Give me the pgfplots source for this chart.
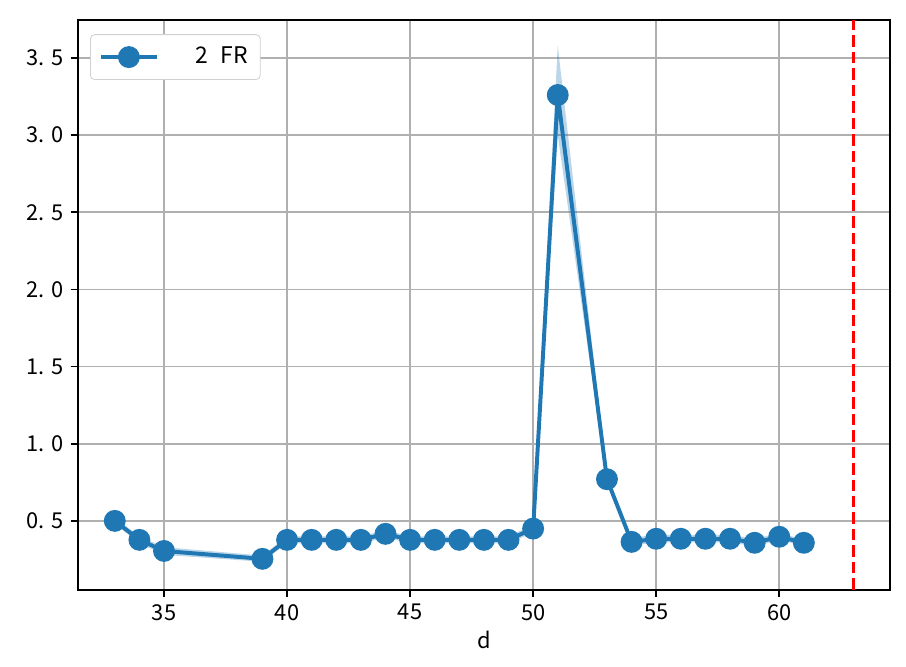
\documentclass[border=0pt]{standalone}
\usepackage{fontspec}
\setmainfont{Noto Sans CJK SC}
\usepackage{pgfplots}
\pgfplotsset{compat=1.18}
\usepgfplotslibrary{fillbetween}
\definecolor{c0}{HTML}{1F77B4}
\definecolor{gridc}{HTML}{B0B0B0}
\begin{document}
\begin{tikzpicture}
\begin{axis}[
scale only axis,
width=390pt, height=273.6pt,
xmin=31.5, xmax=64.5,
ymin=0.054, ymax=3.746,
xtick={35,40,45,50,55,60},
ytick={0.5,1.0,1.5,2.0,2.5,3.0,3.5},
yticklabels={0.\hspace{0.3em}5,1.\hspace{0.3em}0,1.\hspace{0.3em}5,2.\hspace{0.3em}0,2.\hspace{0.3em}5,3.\hspace{0.3em}0,3.\hspace{0.3em}5},
/pgf/number format/assume math mode=true,
tick align=outside,
major tick length=3.5pt,
tick style={black, line width=0.8pt},
xtick pos=bottom, ytick pos=left,
axis line style={line width=0.8pt},
grid=major,
grid style={gridc, line width=0.8pt},
xlabel={d},
xlabel style={yshift=2pt},
ticklabel style={font=\fontsize{10.5}{12}\selectfont},
label style={font=\fontsize{10.5}{12}\selectfont},
legend style={at={(0.015,0.975)}, anchor=north west, draw=gridc!60, rounded corners=2pt,
  font=\fontsize{11}{12}\selectfont, inner sep=4pt},
legend cell align=left,
legend image code/.code={\draw[c0, line width=1.9pt] (0pt,0pt) -- (27pt,0pt); \fill[c0] (13.5pt,0pt) circle (4.3pt);},
]
\addplot[name path=up, draw=none, forget plot] coordinates {
(33,0.52) (34,0.40) (35,0.33) (39,0.275) (40,0.40) (41,0.40) (42,0.40) (43,0.40) (44,0.44)
(45,0.40) (46,0.40) (47,0.40) (48,0.40) (49,0.40) (50,0.475) (51,3.58) (53,0.80)
(54,0.39) (55,0.41) (56,0.41) (57,0.41) (58,0.41) (59,0.385) (60,0.42) (61,0.38)};
\addplot[name path=lo, draw=none, forget plot] coordinates {
(33,0.48) (34,0.355) (35,0.28) (39,0.235) (40,0.355) (41,0.355) (42,0.355) (43,0.355) (44,0.39)
(45,0.355) (46,0.355) (47,0.355) (48,0.355) (49,0.355) (50,0.425) (51,3.0) (53,0.74)
(54,0.34) (55,0.36) (56,0.36) (57,0.36) (58,0.36) (59,0.335) (60,0.375) (61,0.34)};
\addplot[c0, fill opacity=0.3, draw=none, forget plot] fill between[of=up and lo];
\addplot[c0, line width=1.9pt, mark=*, mark size=4.3pt, mark options={fill=c0, draw=none}] coordinates {
(33,0.50) (34,0.377) (35,0.305) (39,0.254) (40,0.377) (41,0.377) (42,0.377) (43,0.377) (44,0.416)
(45,0.377) (46,0.377) (47,0.377) (48,0.377) (49,0.377) (50,0.45) (51,3.26) (53,0.77)
(54,0.364) (55,0.384) (56,0.384) (57,0.384) (58,0.384) (59,0.358) (60,0.397) (61,0.358)};
\addlegendentry{\hspace{1.4em}2\hspace{0.55em}FR}
\addplot[red, line width=1.5pt, dash pattern=on 5.5pt off 2.4pt, forget plot] coordinates {(63,0.054) (63,3.746)};
\end{axis}
\path (current axis.south west) ++(-37.4pt,-37pt) coordinate (bl);
\path (current axis.north east) ++(7.7pt,9.6pt) coordinate (tr);
\useasboundingbox (bl) rectangle (tr);
\end{tikzpicture}
\end{document}
